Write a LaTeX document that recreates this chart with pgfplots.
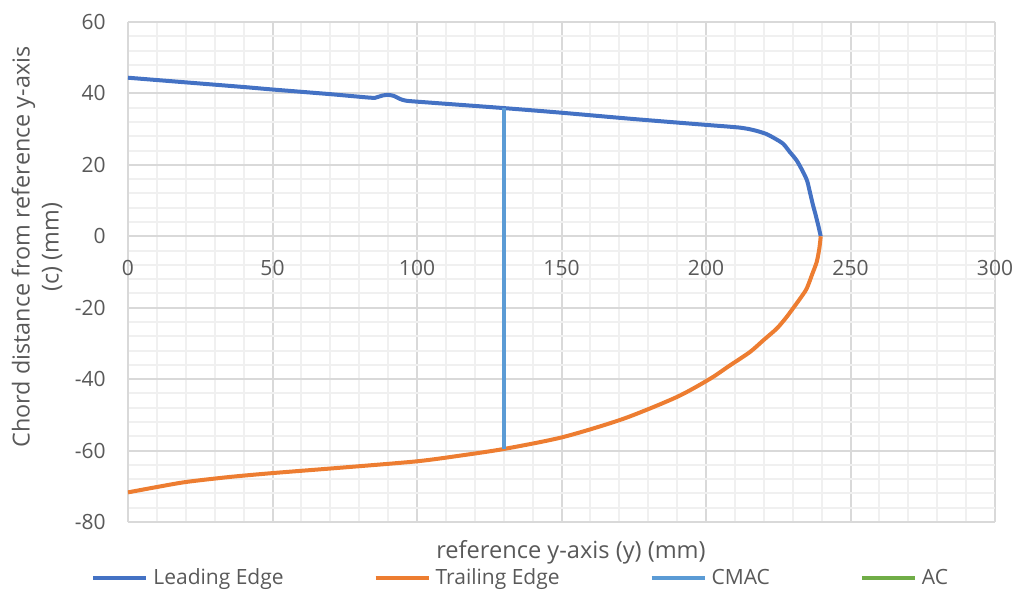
\documentclass[border=0pt]{standalone}
\usepackage{fontspec}
\setmainfont{Open Sans}
\usepackage{pgfplots}
\pgfplotsset{compat=1.18}
\definecolor{txt}{HTML}{595959}
\definecolor{gmaj}{HTML}{D9D9D9}
\definecolor{gmin}{HTML}{F0F0F0}
\definecolor{cLE}{HTML}{4472C4}
\definecolor{cTE}{HTML}{ED7D31}
\definecolor{cCM}{HTML}{5B9BD5}
\definecolor{cAC}{HTML}{70AD47}
\begin{document}
\begin{tikzpicture}
\begin{axis}[
  scale only axis, width=433.5pt, height=250pt,
  xmin=0, xmax=300, ymin=-80, ymax=60,
  xtick={0,50,...,300}, ytick={-80,-60,...,60},
  minor x tick num=4, minor y tick num=4,
  grid=both,
  major grid style={draw=gmaj, line width=1pt},
  minor grid style={draw=gmin, line width=1pt},
  axis x line=middle, axis y line=left,
  axis line style={-, draw=gmaj, line width=1pt},
  hide obscured x ticks=false, hide obscured y ticks=false,
  major tick length=0pt, minor tick length=0pt,
  tick style={draw=none},
  /pgf/number format/assume math mode=true,
  ticklabel style={font=\fontsize{10.5}{12}\selectfont, text=txt},
  xticklabel style={anchor=north, inner sep=0pt, yshift=-12pt},
  yticklabel style={anchor=east, inner sep=0pt, xshift=-11pt},
  xlabel={reference y-axis (y) (mm)},
  ylabel={Chord distance from reference y-axis\\(c) (mm)},
  every axis x label/.style={at={([yshift=-15pt,xshift=4.75pt]rel axis cs:0.5,0)}, anchor=center,
     font=\fontsize{11.8}{14}\selectfont, text=txt},
  every axis y label/.style={at={([xshift=-45.5pt,yshift=12.5pt]rel axis cs:0,0.5)}, anchor=center, rotate=90,
     align=center, font=\fontsize{11.7}{14.5}\selectfont, text=txt},
  legend columns=4,
  legend style={at={([yshift=-28pt,xshift=-18.5pt]rel axis cs:0,0)}, anchor=west, draw=none, fill=none,
     inner sep=0pt, nodes={inner sep=0pt, text=txt, font=\fontsize{10.5}{12}\selectfont},
     /tikz/every odd column/.append style={column sep=2.5pt},
     /tikz/every even column/.append style={column sep=45pt}},
  legend image code/.code={\draw[#1, line width=2pt] (0pt,0pt) -- (26.5pt,0pt);},
  legend cell align=left,
]
\coordinate (sw) at (rel axis cs:0,0);
\coordinate (ne) at (rel axis cs:1,1);
\addplot[cLE, line width=2pt, line join=round, smooth, tension=0.45] coordinates {
(0,44.4) (20,43.1) (40,41.8) (50,41.1) (70,39.8) (84,38.8) (86,38.9) (88,39.4) (90,39.6) (92,39.3) (94,38.5) (96,38.0) (100,37.7)
(130,35.9) (150,34.6) (174,32.9) (200,31.2) (208,30.7) (212,30.4) (215,30.0) (218,29.4) (221,28.6) (224,27.3) (226.7,25.9)
(229,23.6) (231.4,21.2) (233.6,18) (235,15.5) (236,12.2) (237,8.8) (238,5.8) (239,2.5) (239.7,0)
};
\addlegendentry{Leading Edge}
\addplot[cTE, line width=2pt, line join=round, smooth, tension=0.45] coordinates {
(0,-71.7) (10,-70.2) (20,-68.8) (35,-67.4) (50,-66.3) (75,-64.7) (100,-63) (115,-61.4) (130.4,-59.5)
(150.6,-56.2) (171.4,-51.1) (189.9,-45) (201.4,-39.9) (208,-36.3) (215.2,-32.4) (220,-29) (224.4,-25.9)
(227.5,-23) (230,-20.3) (232.5,-17.5) (234.8,-14.7) (236.8,-10.5) (238.3,-7.2) (239.2,-3.5) (239.7,0)
};
\addlegendentry{Trailing Edge}
\addplot[cCM, line width=2pt] coordinates {(130.2,35.9) (130.2,-59.5)};
\addlegendentry{CMAC}
\addlegendimage{cAC}
\addlegendentry{AC}
\end{axis}
\pgfresetboundingbox
\path ([xshift=-64pt,yshift=-35.5pt]sw) rectangle ([xshift=10.5pt,yshift=11pt]ne);
\end{tikzpicture}
\end{document}
